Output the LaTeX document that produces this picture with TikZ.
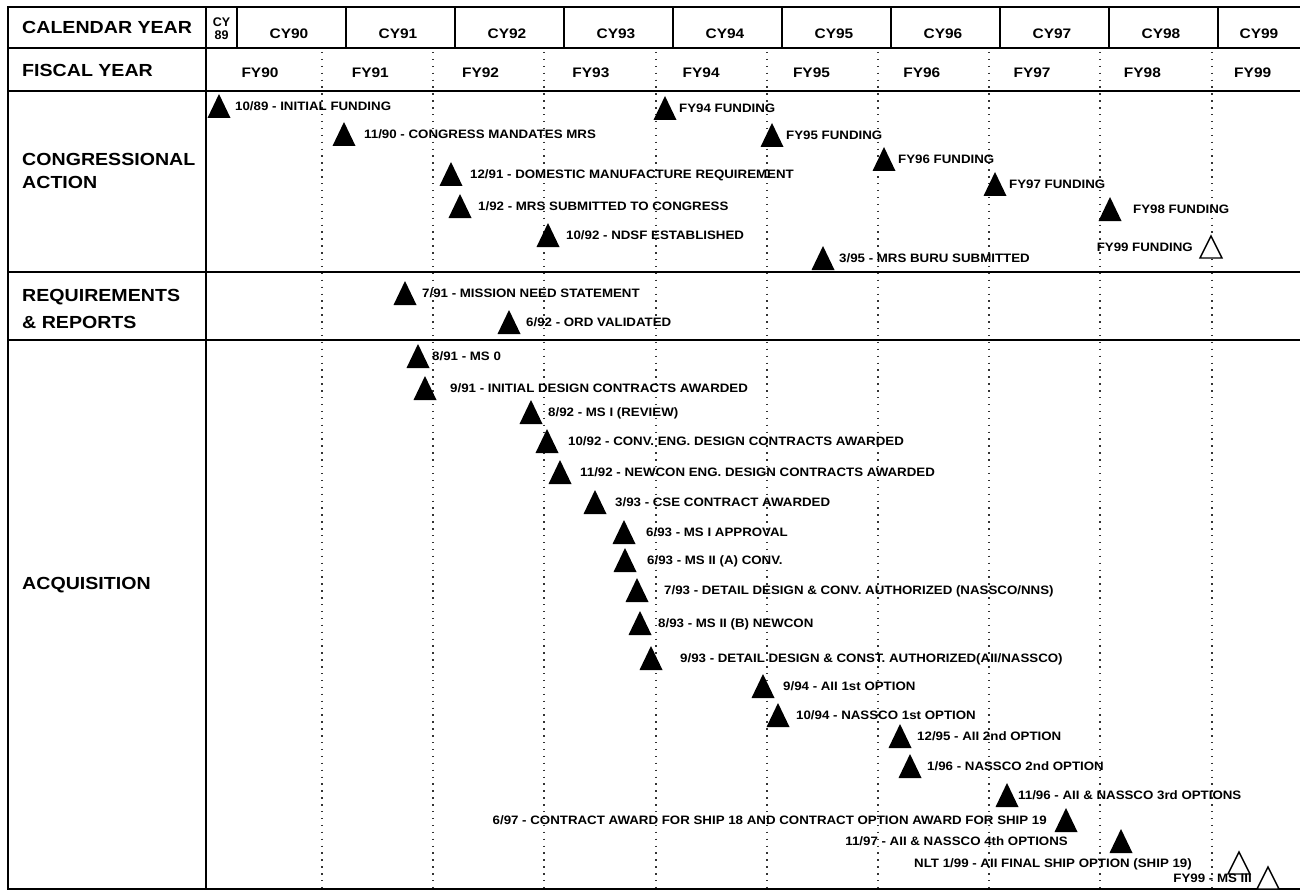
\documentclass[tikz,border=0pt]{standalone}
\usepackage{fontspec}
\setmainfont{Liberation Sans}[FakeStretch=1.12]
\newfontfamily\plainsans{Liberation Sans}
\newfontfamily\evfont{Liberation Sans}[FakeStretch=1.09]
\usetikzlibrary{calc}

\tikzset{
  x=1pt, y=-1pt,
  frame/.style={line width=2.8pt, line cap=rect},
  cyrule/.style={line width=2pt},
  fyrule/.style={line width=1.4pt, black!80, dash pattern=on 1.4pt off 5.5pt},
  head/.style={font=\fontsize{17.5}{17.5}\selectfont\bfseries, anchor=base west, inner sep=0pt},
  yearlab/.style={font=\fontsize{13.8}{13.8}\selectfont\bfseries, anchor=base, inner sep=0pt},
  evlab/.style={font=\evfont\fontsize{12.2}{12.2}\selectfont\bfseries, inner sep=0pt},
  solidtri/.style={fill=black},
  opentri/.style={draw=black, line width=1.4pt, fill=white, line join=miter},
}

% milestone: filled triangle, label to the right
\newcommand\EvR[5]{%
  \coordinate (#1) at (#2,#3);
  \fill[solidtri, shift={(#1)}] (-11.5,12) -- (0,-12) -- (11.5,12) -- cycle;
  \node[evlab, anchor=base west] (#1t) at ($(#1)+(#4,4.3)$) {#5};}
% milestone: filled triangle, label to the left
\newcommand\EvL[5]{%
  \coordinate (#1) at (#2,#3);
  \fill[solidtri, shift={(#1)}] (-11.5,12) -- (0,-12) -- (11.5,12) -- cycle;
  \node[evlab, anchor=base east] (#1t) at ($(#1)+(-#4,4.3)$) {#5};}
% planned milestone: open triangle, label to the left
\newcommand\EvO[5]{%
  \coordinate (#1) at (#2,#3);
  \draw[opentri, shift={(#1)}] (-11,11) -- (0,-11) -- (11,11) -- cycle;
  \node[evlab, anchor=base east] (#1t) at ($(#1)+(-#4,4.3)$) {#5};}

\begin{document}
\begin{tikzpicture}
\useasboundingbox (0,0) rectangle (1300,896);

% fiscal-year boundaries
\foreach \fx in {322,433,544,656,767,878,989,1100,1212}
  \draw[fyrule] (\fx,52) -- (\fx,887);

% frame and section rules
\draw[frame] (1300,7) -- (8,7) -- (8,889) -- (1300,889);
\draw[cyrule] (8,48) -- (1300,48);
\draw[frame] (8,91) -- (1300,91);
\draw[frame] (8,272) -- (1300,272);
\draw[frame] (8,340) -- (1300,340);
\draw[frame] (206,7) -- (206,889);
\foreach \i in {0,...,9}
  \draw[cyrule] ({237+109*\i},7) -- ({237+109*\i},48);

% row and section headings
\node[head] (hcy) at (22,34) {CALENDAR YEAR};
\node[head] (hfy) at (22,77) {FISCAL YEAR};
\node[head] (hca1) at (22,166) {CONGRESSIONAL};
\node[head] (hca2) at (22,189) {ACTION};
\node[head] (hrr1) at (22,301) {REQUIREMENTS};
\node[head] (hrr2) at (22,328) {\& REPORTS};
\node[head] (hacq) at (22,589) {ACQUISITION};

% calendar years
\node[font=\plainsans\fontsize{12.5}{12.5}\selectfont\bfseries, anchor=base, inner sep=0pt] (cy89a) at (221.5,27) {CY};
\node[font=\plainsans\fontsize{12.5}{12.5}\selectfont\bfseries, anchor=base, inner sep=0pt] (cy89b) at (221.5,39.5) {89};
\foreach \y [count=\i from 0] in {90,...,98}
  \node[yearlab] (cy\y) at ({289+109*\i},38.5) {CY\y};
\node[yearlab] (cy99) at (1259,38.5) {CY99};

% fiscal years
\foreach \y [count=\i from 0] in {90,...,99}
  \node[yearlab] (fy\y) at ({260+110.3*\i},78) {FY\y};

% congressional action
\EvR{c1}{219}{106}{16}{10/89 - INITIAL FUNDING}
\EvR{c2}{344}{134}{20}{11/90 - CONGRESS MANDATES MRS}
\EvR{c3}{451}{174}{19}{12/91 - DOMESTIC MANUFACTURE REQUIREMENT}
\EvR{c4}{460}{206}{18}{1/92 - MRS SUBMITTED TO CONGRESS}
\EvR{c5}{548}{235}{18}{10/92 - NDSF ESTABLISHED}
\EvR{c6}{665}{108}{14}{FY94 FUNDING}
\EvR{c7}{772}{135}{14}{FY95 FUNDING}
\EvR{c8}{884}{159}{14}{FY96 FUNDING}
\EvR{c9}{995}{184}{14}{FY97 FUNDING}
\EvR{c10}{1110}{209}{23}{FY98 FUNDING}
\EvO{c11}{1211}{247}{18}{FY99 FUNDING}
\EvR{c12}{823}{258}{16}{3/95 - MRS BURU SUBMITTED}

% requirements and reports
\EvR{r1}{405}{293}{17}{7/91 - MISSION NEED STATEMENT}
\EvR{r2}{509}{322}{17}{6/92 - ORD VALIDATED}

% acquisition
\EvR{a1}{418}{356}{14}{8/91 - MS 0}
\EvR{a2}{425}{388}{25}{9/91 - INITIAL DESIGN CONTRACTS AWARDED}
\EvR{a3}{531}{412}{17}{8/92 - MS I (REVIEW)}
\EvR{a4}{547}{441}{21}{10/92 - CONV. ENG. DESIGN CONTRACTS AWARDED}
\EvR{a5}{560}{472}{20}{11/92 - NEWCON ENG. DESIGN CONTRACTS AWARDED}
\EvR{a6}{595}{502}{20}{3/93 - CSE CONTRACT AWARDED}
\EvR{a7}{624}{532}{22}{6/93 - MS I APPROVAL}
\EvR{a8}{625}{560}{22}{6/93 - MS II (A) CONV.}
\EvR{a9}{637}{590}{27}{7/93 - DETAIL DESIGN \& CONV. AUTHORIZED (NASSCO/NNS)}
\EvR{a10}{640}{623}{18}{8/93 - MS II (B) NEWCON}
\EvR{a11}{651}{658}{29}{9/93 - DETAIL DESIGN \& CONST. AUTHORIZED(AII/NASSCO)}
\EvR{a12}{763}{686}{20}{9/94 - AII 1st OPTION}
\EvR{a13}{778}{715}{18}{10/94 - NASSCO 1st OPTION}
\EvR{a14}{900}{736}{17}{12/95 - AII 2nd OPTION}
\EvR{a15}{910}{766}{17}{1/96 - NASSCO 2nd OPTION}
\EvR{a16}{1007}{795}{11}{11/96 - AII \& NASSCO 3rd OPTIONS}
\EvL{a17}{1066}{820}{19}{6/97 - CONTRACT AWARD FOR SHIP 18 AND CONTRACT OPTION AWARD FOR SHIP 19}
\EvL{a18}{1121}{841}{53}{11/97 - AII \& NASSCO 4th OPTIONS}
\EvO{a19}{1239}{863}{47}{NLT 1/99 - AII FINAL SHIP OPTION (SHIP 19)}
\EvO{a20}{1268}{878}{16}{FY99 - MS III}
\end{tikzpicture}
\end{document}
